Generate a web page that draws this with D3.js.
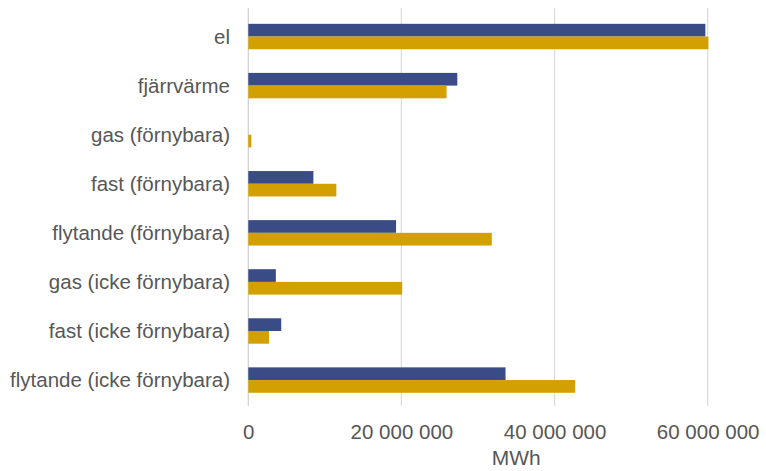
<!DOCTYPE html>
<html>
<head>
<meta charset="utf-8">
<script src="https://cdn.jsdelivr.net/npm/d3@7"></script>
<style>
  html, body { margin: 0; padding: 0; background: #fff; }
  svg { display: block; }
</style>
</head>
<body>
<script>
const categories = ["el", "fjärrvärme", "gas (förnybara)", "fast (förnybara)", "flytande (förnybara)", "gas (icke förnybara)", "fast (icke förnybara)", "flytande (icke förnybara)"];
const seriesA = [59700000, 27300000, 0, 8500000, 19300000, 3600000, 4300000, 33600000];
const seriesB = [60100000, 25900000, 400000, 11500000, 31800000, 20100000, 2700000, 42700000];
const xTicks = [0, 20000000, 40000000, 60000000, 70000000];
const xTickLabels = ["0", "20 000 000", "40 000 000", "60 000 000", ""];
const axisTitle = "MWh";
const colors = ["#394c86", "#d2a000"];

const W = 766, H = 471;
const svg = d3.select("body").append("svg").attr("width", W).attr("height", H);

const x = d3.scaleLinear().domain([0, 70000000]).range([248.3, 784.2]);
const y = d3.scaleBand().domain(categories).range([12, 404.6]).paddingInner(0.482).paddingOuter(0.241);
const sub = d3.scaleBand().domain([0, 1]).range([0, y.bandwidth()]);

const gridTop = 8, gridBottom = 406;
// gridlines
svg.append("g").selectAll("line").data(xTicks).join("line")
  .attr("x1", d => x(d)).attr("x2", d => x(d))
  .attr("y1", gridTop).attr("y2", gridBottom)
  .attr("stroke", d => d === 0 ? "#cfcfcf" : "#dadada").attr("stroke-width", 1.2);

// bars
const series = [seriesA, seriesB];
series.forEach((vals, si) => {
  svg.append("g").selectAll("rect").data(categories).join("rect")
    .attr("x", x(0))
    .attr("y", c => y(c) + sub(si))
    .attr("width", (c, i) => x(vals[i]) - x(0))
    .attr("height", sub.bandwidth())
    .attr("fill", colors[si]);
});

// category labels
svg.append("g").selectAll("text").data(categories).join("text")
  .attr("x", 230).attr("y", c => y(c) + y.bandwidth() / 2)
  .attr("dy", "0.35em").attr("text-anchor", "end")
  .attr("font-family", "Liberation Sans, Arial, sans-serif").attr("font-size", 20.5)
  .attr("fill", "#575757").text(c => c);

// x axis tick labels
const xAxis = d3.axisBottom(x).tickValues(xTicks).tickSize(0)
  .tickFormat((d, i) => xTickLabels[i]);
const gx = svg.append("g").attr("transform", `translate(0,${gridBottom})`).call(xAxis);
gx.select(".domain").remove();
gx.selectAll("text").attr("dy", "0").attr("y", 33)
  .attr("font-family", "Liberation Sans, Arial, sans-serif").attr("font-size", 20.5)
  .attr("fill", "#575757");

// axis title
svg.append("text").attr("x", (x.range()[0] + x.range()[1]) / 2).attr("y", 465)
  .attr("text-anchor", "middle")
  .attr("font-family", "Liberation Sans, Arial, sans-serif").attr("font-size", 21)
  .attr("fill", "#575757").text(axisTitle);
</script>
</body>
</html>
